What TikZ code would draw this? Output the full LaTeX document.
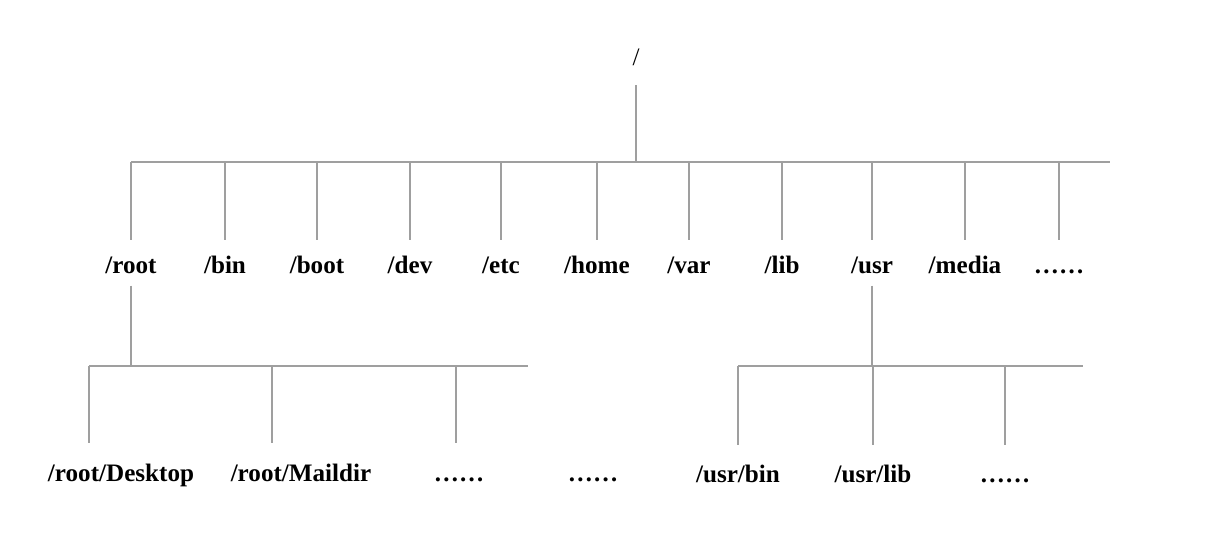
\documentclass[tikz,border=0pt]{standalone}
\usepackage{fontspec}
\setmainfont{Liberation Serif}
\tikzset{
  dirlbl/.style  = {font=\bfseries\fontsize{14.3}{17}\selectfont,anchor=base,
                    inner sep=1pt,text height=10pt,text depth=3pt},
  toplbl/.style  = {font=\fontsize{14.3}{17}\selectfont,anchor=base,
                    inner sep=1pt,text height=10pt,text depth=3pt},
  branch/.style  = {draw=gray!75,line width=0.9pt}
}

\begin{document}
\begin{tikzpicture}[x=0.02cm,y=-0.02cm]
  \useasboundingbox (0,0) rectangle (1214,542);
  % top level
  \node[toplbl] (top) at (636,65) {/};
  \coordinate (barL) at (131,162);
  \coordinate (barR) at (1110,162);
  \draw[branch] (barL) -- (barR);
  \draw[branch,shorten <=7.4pt] (top.south) -- (top.south |- barL);
  % first level
  \foreach \n/\x in {root/131,bin/225,boot/317,dev/410,etc/501,home/597,
                     var/689,lib/782,usr/872,media/965}{
    \node[dirlbl] (\n) at (\x,273) {/\n};
    \draw[branch,shorten >=7.6pt] (\n.north |- barL) -- (\n.north);
  }
  \node[dirlbl] (more) at (1059,273) {……};
  \draw[branch,shorten >=7.6pt] (more.north |- barL) -- (more.north);
  % under /root
  \coordinate (rbarL) at (89,366);
  \coordinate (rbarR) at (528,366);
  \draw[branch] (rbarL) -- (rbarR);
  \draw[branch,shorten <=3pt] (root.south) -- (root.south |- rbarL);
  \foreach \t/\x in {deskTip/89,mailTip/272,rdotTip/456}{
    \coordinate (\t) at (\x,443);
    \draw[branch] (\t |- rbarL) -- (\t);
  }
  \node[dirlbl] (desk)   at (121,481) {/root/Desktop};
  \node[dirlbl] (mail)   at (301,481) {/root/Maildir};
  \node[dirlbl] (rdots)  at (459,481) {……};
  \node[dirlbl] (rdots2) at (593,481) {……};
  % under /usr
  \coordinate (ubarL) at (738,366);
  \coordinate (ubarR) at (1083,366);
  \draw[branch] (ubarL) -- (ubarR);
  \draw[branch,shorten <=3pt] (usr.south) -- (usr.south |- ubarL);
  \node[dirlbl] (ubin)  at (738,482) {/usr/bin};
  \node[dirlbl] (ulib)  at (873,482) {/usr/lib};
  \node[dirlbl] (udots) at (1005,482) {……};
  \foreach \n in {ubin,ulib,udots}
    \draw[branch,shorten >=10pt] (\n.north |- ubarL) -- (\n.north);
\end{tikzpicture}
\end{document}
